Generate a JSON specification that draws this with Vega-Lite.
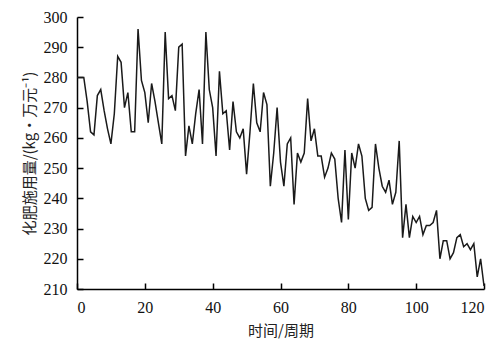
{
  "$schema": "https://vega.github.io/schema/vega-lite/v6.json",
  "width": 407,
  "height": 272,
  "autosize": "none",
  "padding": {"left": 77, "top": 17, "right": 14, "bottom": 53},
  "background": "white",
  "config": {"view": {"stroke": null}, "axis": {"domain": true, "ticks": true}},
  "data": {"values": [
    {"t":0,"v":280},{"t":1,"v":280},{"t":2,"v":280},{"t":3,"v":272},{"t":4,"v":262},{"t":5,"v":261},{"t":6,"v":274},{"t":7,"v":276},{"t":8,"v":269},{"t":9,"v":263},
    {"t":10,"v":258},{"t":11,"v":268},{"t":12,"v":287},{"t":13,"v":285},{"t":14,"v":270},{"t":15,"v":275},{"t":16,"v":262},{"t":17,"v":262},{"t":18,"v":296},{"t":19,"v":279},
    {"t":20,"v":275},{"t":21,"v":265},{"t":22,"v":278},{"t":23,"v":272},{"t":24,"v":265},{"t":25,"v":258},{"t":26,"v":295},{"t":27,"v":273},{"t":28,"v":274},{"t":29,"v":269},
    {"t":30,"v":290},{"t":31,"v":291},{"t":32,"v":254},{"t":33,"v":264},{"t":34,"v":258},{"t":35,"v":268},{"t":36,"v":276},{"t":37,"v":258},{"t":38,"v":295},{"t":39,"v":276},
    {"t":40,"v":270},{"t":41,"v":254},{"t":42,"v":282},{"t":43,"v":268},{"t":44,"v":269},{"t":45,"v":256},{"t":46,"v":272},{"t":47,"v":262},{"t":48,"v":260},{"t":49,"v":263},
    {"t":50,"v":248},{"t":51,"v":262},{"t":52,"v":278},{"t":53,"v":265},{"t":54,"v":262},{"t":55,"v":275},{"t":56,"v":271},{"t":57,"v":244},{"t":58,"v":255},{"t":59,"v":270},
    {"t":60,"v":252},{"t":61,"v":244},{"t":62,"v":258},{"t":63,"v":260},{"t":64,"v":238},{"t":65,"v":255},{"t":66,"v":252},{"t":67,"v":255},{"t":68,"v":273},{"t":69,"v":259},
    {"t":70,"v":263},{"t":71,"v":254},{"t":72,"v":254},{"t":73,"v":247},{"t":74,"v":250},{"t":75,"v":255},{"t":76,"v":253},{"t":77,"v":240},{"t":78,"v":232},{"t":79,"v":256},
    {"t":80,"v":233},{"t":81,"v":255},{"t":82,"v":250},{"t":83,"v":258},{"t":84,"v":254},{"t":85,"v":240},{"t":86,"v":236},{"t":87,"v":237},{"t":88,"v":258},{"t":89,"v":250},
    {"t":90,"v":244},{"t":91,"v":242},{"t":92,"v":246},{"t":93,"v":238},{"t":94,"v":242},{"t":95,"v":259},{"t":96,"v":227},{"t":97,"v":238},{"t":98,"v":227},{"t":99,"v":234},
    {"t":100,"v":232},{"t":101,"v":234},{"t":102,"v":228},{"t":103,"v":231},{"t":104,"v":231},{"t":105,"v":232},{"t":106,"v":236},{"t":107,"v":220},{"t":108,"v":226},{"t":109,"v":226},
    {"t":110,"v":220},{"t":111,"v":222},{"t":112,"v":227},{"t":113,"v":228},{"t":114,"v":224},{"t":115,"v":225},{"t":116,"v":223},{"t":117,"v":225},{"t":118,"v":214},{"t":119,"v":220},
    {"t":120,"v":211}
  ]},
  "mark": {"type": "line", "color": "#1a1a1a", "strokeWidth": 1.5},
  "encoding": {
    "x": {
      "field": "t", "type": "quantitative",
      "scale": {"domain": [0, 120], "nice": false, "zero": false},
      "axis": {
        "values": [0, 20, 40, 60, 80, 100, 120],
        "grid": false, "title": "时间/周期",
        "domain": true, "domainColor": "black", "domainWidth": 1.5, "domainOpacity": 1,
        "ticks": true, "tickColor": "black", "tickSize": -6, "tickWidth": 1.5, "tickOpacity": 1,
        "labelPadding": 16, "labelFont": "Liberation Serif", "labelFontSize": 16, "labelColor": "#111",
        "titleFont": "Noto Sans CJK SC", "titleFontSize": 15, "titleFontWeight": "normal", "titleColor": "#222", "titlePadding": 8
      }
    },
    "y": {
      "field": "v", "type": "quantitative",
      "scale": {"domain": [210, 300], "nice": false, "zero": false},
      "axis": {
        "values": [210, 220, 230, 240, 250, 260, 270, 280, 290, 300],
        "grid": false, "title": "化肥施用量/(kg・万元⁻¹)",
        "domain": true, "domainColor": "black", "domainWidth": 1.5, "domainOpacity": 1,
        "ticks": true, "tickColor": "black", "tickSize": -6, "tickWidth": 1.5, "tickOpacity": 1,
        "labelPadding": 16, "labelFont": "Liberation Serif", "labelFontSize": 16, "labelColor": "#111",
        "titleFont": "Noto Sans CJK SC", "titleFontSize": 15, "titleFontWeight": "normal", "titleColor": "#222", "titlePadding": 6
      }
    }
  }
}
